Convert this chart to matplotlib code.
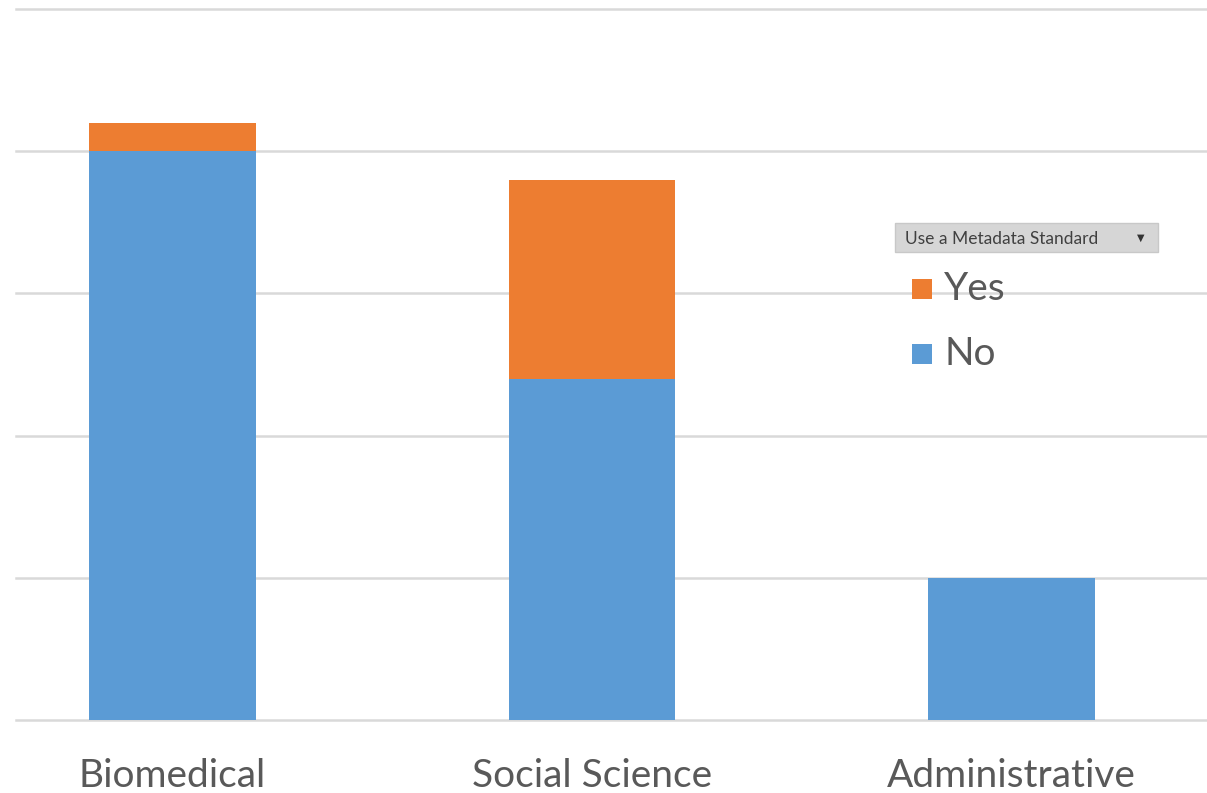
import matplotlib.pyplot as plt
from matplotlib.patches import FancyBboxPatch, Rectangle

categories = ["Biomedical", "Social Science", "Administrative"]
no_vals = [20, 12, 5]
yes_vals = [1, 7, 0]

blue = "#5B9BD5"
orange = "#ED7D31"
grey_text = "#595959"

plt.rcParams['font.family'] = ['Lato', 'DejaVu Sans']

fig = plt.figure(figsize=(12.07, 7.93), dpi=100)
ax = fig.add_axes([16 / 1207, 73 / 793, 1 - 16 / 1207, 711 / 793])

x = range(len(categories))
ax.bar(x, no_vals, width=0.398, color=blue, zorder=3)
ax.bar(x, yes_vals, width=0.398, bottom=no_vals, color=orange, zorder=3)

ax.set_xlim(-0.373, 2.466)
ax.set_ylim(0, 25)
ax.set_yticks(range(0, 26, 5))
ax.yaxis.grid(True, color="#d9d9d9", linewidth=1.8, zorder=0)
for gl in ax.get_ygridlines():
    gl.set_clip_on(False)
ax.tick_params(left=False, labelleft=False, bottom=False)
for s in ax.spines.values():
    s.set_visible(False)
ax.set_xticks(list(x))
ax.set_xticklabels(categories, fontsize=28, color=grey_text)
ax.tick_params(axis='x', pad=24)

# filter dropdown button above the legend
btn = FancyBboxPatch((895, 793 - 252), 263, 29, boxstyle="square,pad=0",
                     transform=None, facecolor="#d6d6d6", edgecolor="#c8c8c8",
                     linewidth=1, zorder=5)
fig.add_artist(btn)
fig.text(905 / 1207, 1 - 239 / 793, "Use a Metadata Standard", fontsize=12.5,
         color="#404040", va="center", ha="left", zorder=6)
fig.text(1141 / 1207, 1 - 238 / 793, "▼", fontsize=7, color="#333333",
         va="center", ha="center", family="DejaVu Sans", zorder=6)

# legend entries
for label, col, yc in [("Yes", orange, 289), ("No", blue, 354)]:
    fig.add_artist(Rectangle((912, 793 - yc - 10), 20, 20, transform=None,
                             facecolor=col, edgecolor="none", zorder=5))
    fig.text(944 / 1207, 1 - yc / 793, label, fontsize=28, color=grey_text,
             va="center", ha="left", zorder=6)

fig.savefig("out.png", dpi=100)
